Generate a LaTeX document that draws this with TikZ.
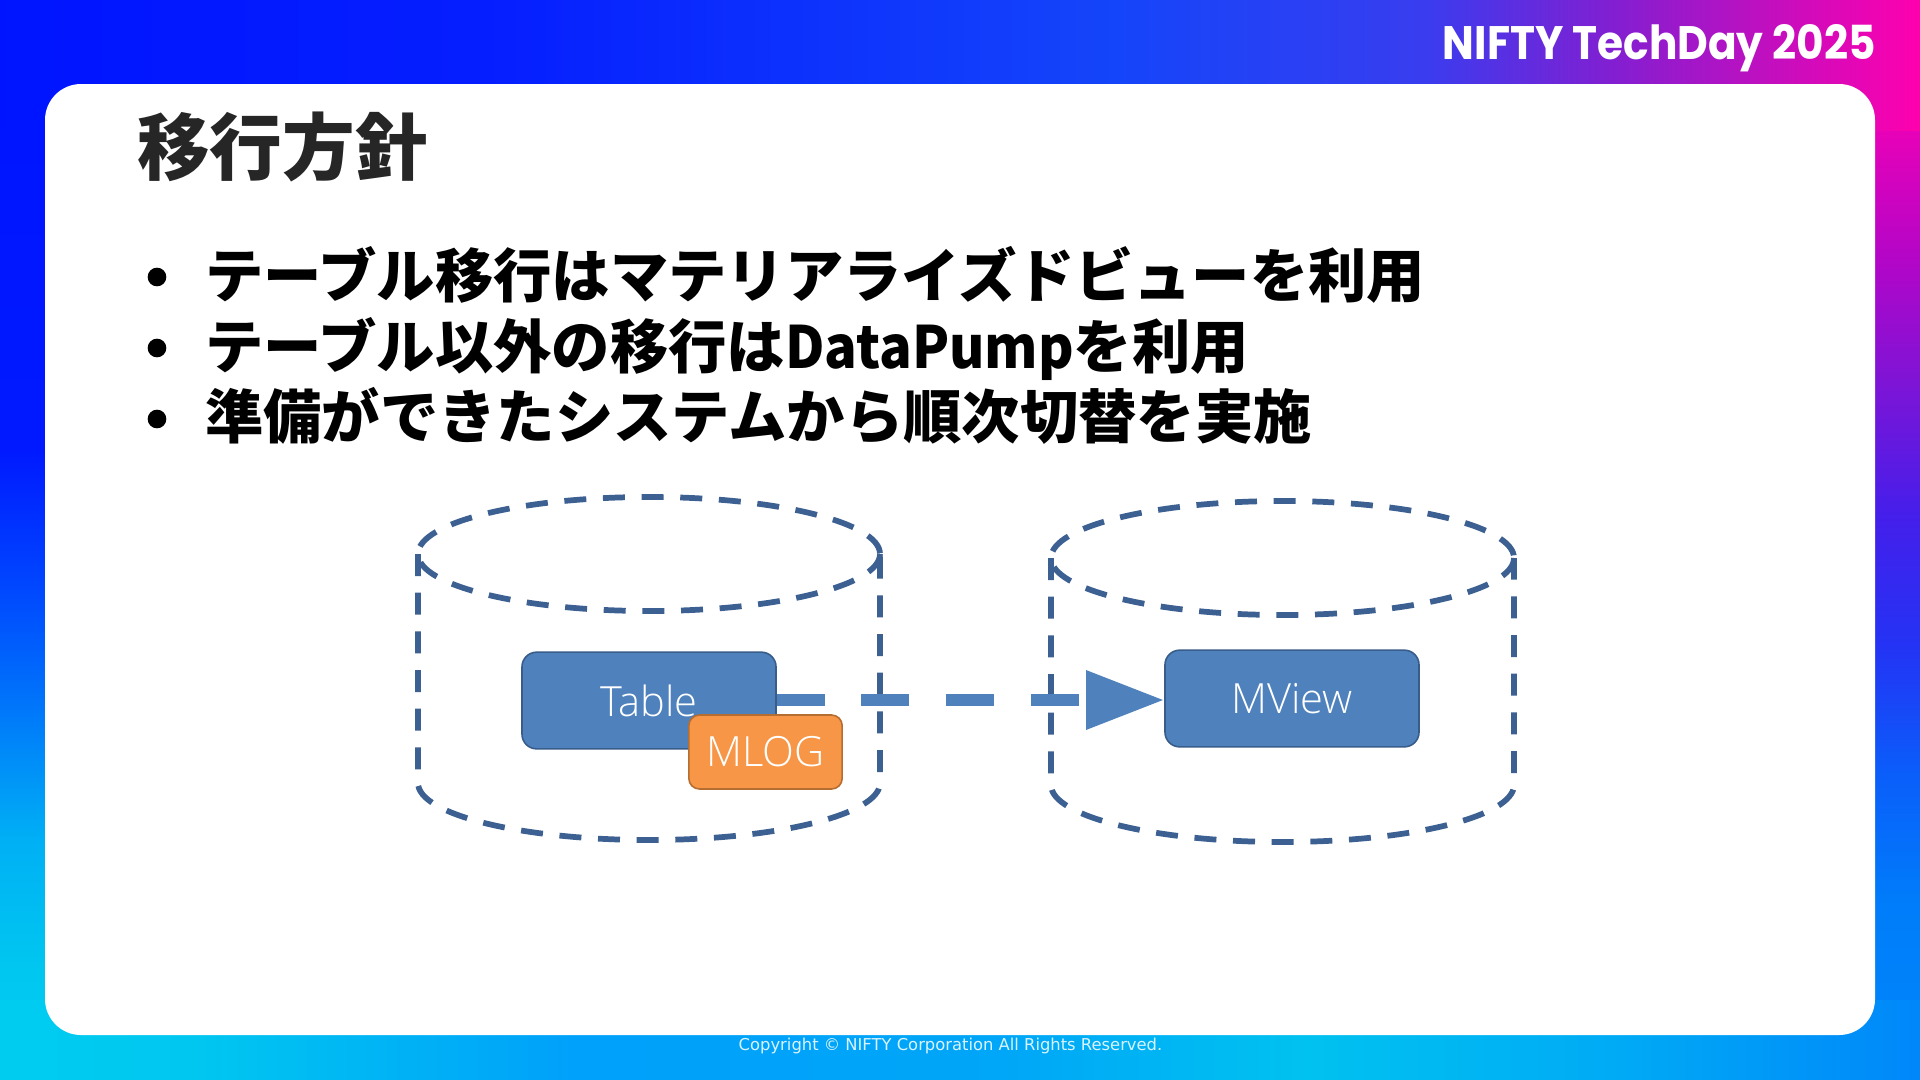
\documentclass[tikz,border=0pt]{standalone}
\usepackage{fontspec}
\usepackage{xcolor}
\usetikzlibrary{positioning,arrows.meta,calc}
\setmainfont{Noto Sans CJK JP}
\newfontfamily\latinword{Noto Sans CJK JP}[FakeStretch=0.93]
\newfontfamily\logofont{Poppins}[FakeStretch=0.9]
\newfontfamily\boxfont{Open Sans Light}
\newfontfamily\footfont{DejaVu Sans}

\definecolor{cylline}{RGB}{60,96,145}
\definecolor{boxblue}{RGB}{79,129,189}
\definecolor{boxedge}{RGB}{56,93,138}
\definecolor{logorange}{RGB}{247,150,70}
\definecolor{logedge}{RGB}{182,109,49}
\definecolor{titlegrey}{RGB}{38,38,38}

% Margin gradients: 25bp and 75bp are the two ends of the band
\pgfdeclarehorizontalshading{topband}{100bp}{
  rgb(0bp)=(0,0.08,1);
  rgb(25bp)=(0,0.08,1);
  rgb(38bp)=(0.02,0.12,1);
  rgb(54bp)=(0.08,0.27,0.98);
  rgb(62bp)=(0.22,0.24,0.94);
  rgb(67bp)=(0.51,0.12,0.82);
  rgb(75bp)=(1,0,0.68);
  rgb(100bp)=(1,0,0.68)}
\pgfdeclareverticalshading{leftband}{100bp}{
  rgb(0bp)=(0,0.80,0.94);
  rgb(25bp)=(0,0.80,0.94);
  rgb(30.5bp)=(0,0.78,0.94);
  rgb(37bp)=(0,0.69,0.96);
  rgb(43.5bp)=(0,0.47,0.98);
  rgb(50bp)=(0,0.27,1);
  rgb(56.6bp)=(0,0.10,1);
  rgb(75bp)=(0,0.08,1);
  rgb(100bp)=(0,0.08,1)}
\pgfdeclareverticalshading{rightband}{100bp}{
  rgb(0bp)=(0,0.53,0.98);
  rgb(25bp)=(0,0.53,0.98);
  rgb(33.8bp)=(0,0.49,0.98);
  rgb(40.3bp)=(0.04,0.37,0.98);
  rgb(46.8bp)=(0.14,0.20,0.96);
  rgb(53.3bp)=(0.27,0.12,0.92);
  rgb(59.9bp)=(0.49,0.08,0.84);
  rgb(66.4bp)=(0.71,0.02,0.78);
  rgb(75bp)=(0.98,0,0.70);
  rgb(100bp)=(0.98,0,0.70)}
\pgfdeclarehorizontalshading{bottomband}{100bp}{
  rgb(0bp)=(0,0.80,0.94);
  rgb(25bp)=(0,0.80,0.94);
  rgb(30bp)=(0,0.78,0.94);
  rgb(40bp)=(0,0.63,0.98);
  rgb(51bp)=(0,0.65,0.97);
  rgb(59bp)=(0,0.76,0.94);
  rgb(67bp)=(0,0.67,0.96);
  rgb(75bp)=(0,0.53,0.98);
  rgb(100bp)=(0,0.53,0.98)}

\begin{document}
\begin{tikzpicture}[
  x=0.75pt, y=-0.75pt,
  % Inside boxes, 1 reference pixel = 0.75pt
  cyl/.style={draw=cylline, line width=4.3pt, dash pattern=on 16.5pt off 12.5pt},
  flowbox/.style={
    draw=boxedge,
    fill=boxblue,
    rounded corners=11pt,
    line width=1.2pt,
    text=white,
    font=\boxfont\fontsize{31.2pt}{36pt}\selectfont,
    minimum width=190.5pt,
    minimum height=72.5pt,
    inner sep=0pt
  },
  logbox/.style={
    flowbox,
    draw=logedge,
    fill=logorange,
    rounded corners=8pt,
    minimum width=115pt,
    minimum height=55.5pt
  },
  bullettext/.style={
    anchor=base west,
    inner sep=0pt,
    font=\bfseries\fontsize{43.75pt}{52pt}\selectfont
  },
  bulletdot/.style={circle, fill=black, minimum size=14pt, inner sep=0pt},
  arr/.style={-{Triangle[length=58.5pt, width=42pt]}, line width=9.5pt, draw=boxblue,
    dash pattern=on 36pt off 27.5pt}
]
\useasboundingbox (0,0) rectangle (1920,1079);

% Background bands, then the white card
\shade[shading=leftband] (0,84) rectangle (100,1079);
\shade[shading=rightband] (1820,84) rectangle (1920,1079);
\shade[shading=topband] (0,0) rectangle (1920,130);
\shade[shading=bottomband] (0,1000) rectangle (1920,1079);
\fill[white, rounded corners=27pt] (45,84) rectangle (1875,1035);

% Header and footer
\node[text=white, inner sep=0pt, anchor=east] (logo) at (1876,48)
  {\logofont\bfseries\fontsize{35.2pt}{40pt}\selectfont NIFTY TechDay 2025};
\node[text=white!85!cyan, inner sep=0pt] (copyright) at (950.5,1046)
  {\footfont\fontsize{12.27pt}{14pt}\selectfont Copyright © NIFTY Corporation All Rights Reserved.};

\node[text=titlegrey, inner sep=0pt, anchor=base west, font=\bfseries\fontsize{54.5pt}{60pt}\selectfont]
  (title) at (137,174) {移行方針};

% Bullet list
\node[bulletdot] (dota) at (157,277) {};
\node[bulletdot] (dotb) at (157,348) {};
\node[bulletdot] (dotc) at (157,419) {};
\node[bullettext] (linea) at (205,297) {テーブル移行はマテリアライズドビューを利用};
\node[bullettext] (lineb) at (205,368) {テーブル以外の移行は{\latinword DataPump}を利用};
\node[bullettext] (linec) at (205,438) {準備ができたシステムから順次切替を実施};

% Cylinders
\draw[cyl] (649,554) ellipse [x radius=231, y radius=57];
\draw[cyl] (418,554) -- (418,783) arc [start angle=180, end angle=0, x radius=231, y radius=57] -- (880,554);
\draw[cyl] (1282.5,558) ellipse [x radius=231.5, y radius=57];
\draw[cyl] (1051,558) -- (1051,785) arc [start angle=180, end angle=0, x radius=231.5, y radius=57] -- (1514,558);

\node[flowbox] (tablebox) at (649,700.5) {Table};
\node[flowbox] (mviewbox) at (1292,698.5) {MView};

% Arrow runs behind the MLOG box
\draw[arr] (tablebox.east |- 0,700) -- (mviewbox.west |- 0,700);
\node[logbox] (mlogbox) at (765.5,752) {MLOG};

\end{tikzpicture}
\end{document}
